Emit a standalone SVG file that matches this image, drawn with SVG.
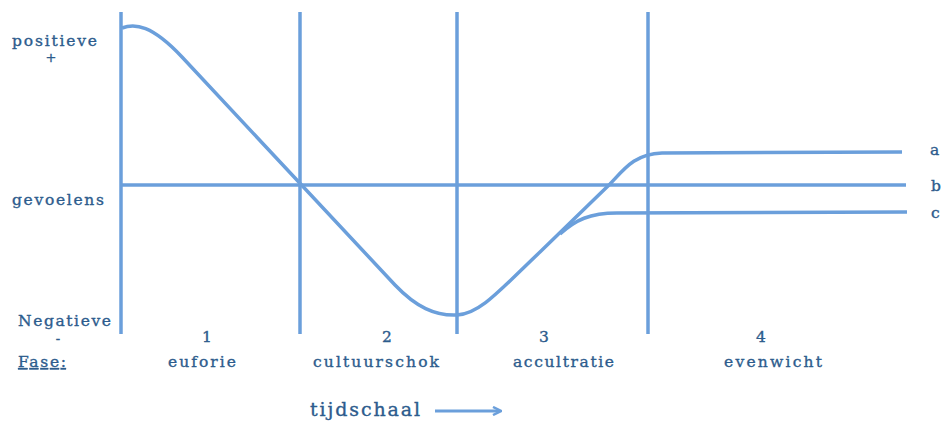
<svg xmlns="http://www.w3.org/2000/svg" width="942" height="423" viewBox="0 0 942 423">
<style>
.ln{fill:none;stroke:#6b9fdb;stroke-width:3.5;stroke-linecap:butt}
.t{font-family:"DejaVu Serif","Liberation Serif",serif;font-size:15.5px;fill:#2d5c8d;stroke:#2d5c8d;stroke-width:0.35}
.s{font-size:13px}
.m{text-anchor:middle}
</style>
<defs>
<marker id="ah" markerWidth="10" markerHeight="10" refX="8" refY="5" orient="auto" markerUnits="userSpaceOnUse">
<path d="M1,1 L9,5 L1,9" fill="none" stroke="#6b9fdb" stroke-width="2.5"/>
</marker>
</defs>
<rect width="942" height="423" fill="#ffffff"/>
<g id="connectors">
<line class="ln" x1="121" y1="12" x2="121" y2="334"/>
<line class="ln" x1="300" y1="12" x2="300" y2="334"/>
<line class="ln" x1="457" y1="12" x2="457" y2="334"/>
<line class="ln" x1="648" y1="12" x2="648" y2="334"/>
<line class="ln" x1="121" y1="185" x2="906" y2="185"/>
<path class="ln" d="M122,28 C135,23 152,25 182,57 L395,285 C416,307 435,316 457,315 C480,314 500,290 540,252 L610,184 C625,168 635,154 662,153 L902,152"/>
<path class="ln" d="M560,234 C575,220 590,213 617,213 L907,212"/>
<line x1="435" y1="411" x2="500" y2="411" stroke="#6b9fdb" stroke-width="3" marker-end="url(#ah)"/>
</g>
<g id="axis-labels">
<text class="t" x="12" y="46" textLength="85">positieve</text>
<text class="t s m" x="51" y="62">+</text>
<text class="t" x="12" y="205" textLength="92">gevoelens</text>
<text class="t" x="18" y="326" textLength="93">Negatieve</text>
<text class="t s m" x="58" y="343">-</text>
<text class="t" x="18" y="367" textLength="48" text-decoration="underline">Fase:</text>
</g>
<g id="phase1"><text class="t m" x="207" y="342">1</text><text class="t" x="168" y="367" textLength="68">euforie</text></g>
<g id="phase2"><text class="t m" x="387" y="342">2</text><text class="t" x="313" y="367" textLength="126">cultuurschok</text></g>
<g id="phase3"><text class="t m" x="544" y="342">3</text><text class="t" x="513" y="367" textLength="101">accultratie</text></g>
<g id="phase4"><text class="t m" x="761" y="342">4</text><text class="t" x="724" y="367" textLength="98">evenwicht</text></g>
<g id="curve-labels">
<text class="t" x="930" y="155">a</text>
<text class="t" x="931" y="191">b</text>
<text class="t" x="931" y="218">c</text>
</g>
<g id="timescale"><text class="t" x="310" y="416" style="font-size:19px" textLength="110">tijdschaal</text></g>
</svg>
